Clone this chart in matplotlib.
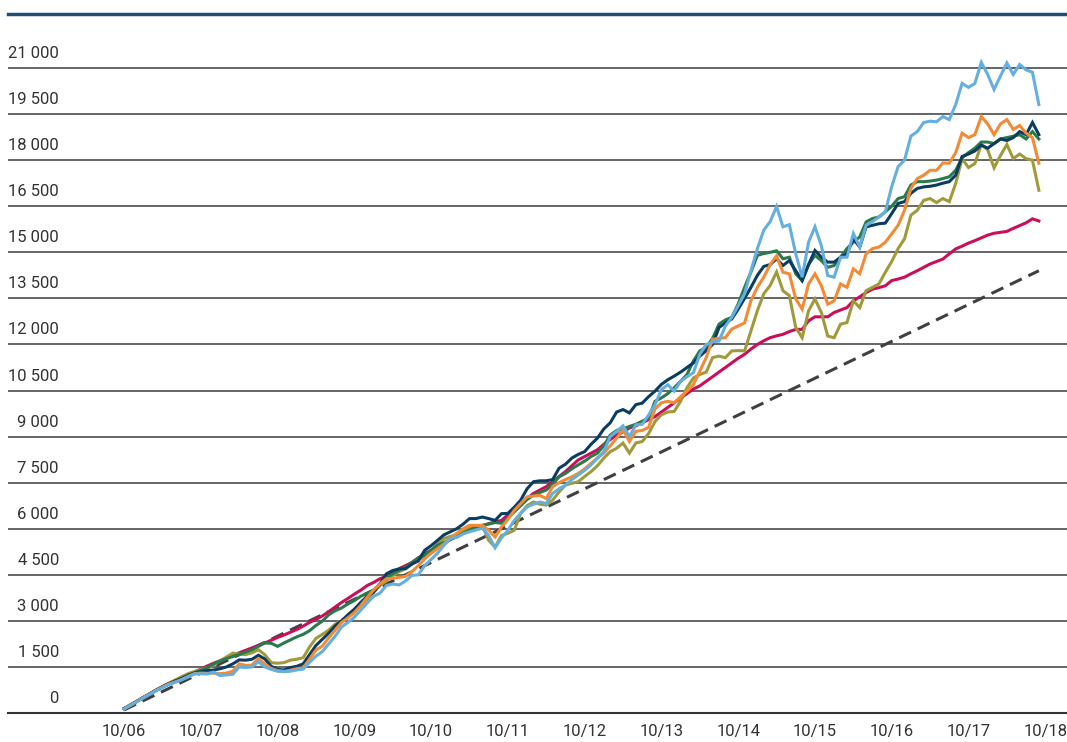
# Monthly savings: cumulative value of 100/month in six funds vs. deposits
import numpy as np
import matplotlib
matplotlib.use("Agg")
import matplotlib.pyplot as plt
from matplotlib.lines import Line2D
from matplotlib.transforms import ScaledTranslation

plt.rcParams['font.family'] = ['Roboto', 'DejaVu Sans']

# x tick labels (one per year, month index 0 = 10/06)
tick_labels = ["10/06", "10/07", "10/08", "10/09", "10/10", "10/11", "10/12",
               "10/13", "10/14", "10/15", "10/16", "10/17", "10/18"]
tick_months = [0, 12, 24, 36, 48, 60, 72, 84, 96, 108, 120, 132, 144]

# y gridlines and labels
y_ticks = [0, 1500, 3000, 4500, 6000, 7500, 9000, 10500, 12000, 13500,
           15000, 16500, 18000, 19500, 21000]

# cumulative deposits (dashed line): start and end
deposit_months = [0, 143]
deposit_values = [100, 14400]

light_blue = [
    130, 250, 370, 490, 610, 720, 830, 930, 1000, 1080, 1170,
    1270, 1280, 1270, 1330, 1220, 1240, 1260, 1500, 1480, 1500,
    1670, 1500, 1420, 1360, 1350, 1360, 1400, 1430, 1650, 1850,
    2000, 2250, 2500, 2800, 2950, 3120, 3350, 3580, 3800, 3900,
    4150, 4200, 4170, 4300, 4480, 4500, 4800, 5000, 5200, 5460,
    5680, 5720, 5830, 5900, 5960, 6020, 5780, 5380, 5700, 5950,
    6270, 6500, 6710, 6800, 6870, 6820, 7150, 7300, 7420, 7600,
    7750, 7900, 8080, 8300, 8510, 9000, 9170, 9350, 9000, 9380,
    9400, 9700, 10040, 10530, 10690, 10480, 10800, 10950, 11080, 11680,
    12000, 12080, 12110, 12600, 12880, 13260, 13650, 14400, 15120, 15720,
    16000, 16490, 15830, 15900, 14950, 14190, 15330, 15830, 15220, 14240,
    14190, 14840, 14840, 15610, 15170, 15880, 16000, 16150, 16320, 17140,
    17790, 18000, 18785, 18930, 19225, 19270, 19250, 19420, 19320, 19810,
    20500, 20370, 20500, 21185, 20790, 20300, 20740, 21165, 20790, 21115,
    20940, 20860, 19810]

orange = [
    135, 255, 375, 495, 615, 730, 840, 940, 1010, 1090, 1190,
    1280, 1300, 1290, 1300, 1280, 1300, 1360, 1600, 1550, 1560,
    1770, 1600, 1450, 1380, 1350, 1390, 1440, 1470, 1750, 2050,
    2180, 2450, 2700, 2945, 3100, 3270, 3500, 3765, 4000, 4200,
    4370, 4380, 4420, 4450, 4600, 4800, 5020, 5200, 5350, 5500,
    5700, 5850, 6000, 6110, 6110, 6110, 5950, 5730, 6055, 6300,
    6600, 6820, 7040, 7060, 7090, 6980, 7370, 7500, 7600, 7690,
    7800, 7950, 8130, 8300, 8460, 8700, 8950, 9220, 8840, 9170,
    9200, 9300, 9900, 10100, 10150, 10100, 10300, 10480, 10690, 11130,
    11570, 12170, 12200, 12220, 12500, 12600, 12700, 13430, 13860, 14190,
    14600, 14880, 14350, 14300, 13480, 13150, 13970, 14300, 13910, 13310,
    13420, 13970, 13860, 14460, 14300, 14950, 15120, 15170, 15330, 15600,
    15880, 16370, 17080, 17400, 17510, 17670, 17670, 17910, 17900, 18245,
    18880, 18735, 18830, 19420, 19180, 18830, 19180, 19320, 19000, 19130,
    18880, 18735, 17900]

navy = [
    140, 260, 380, 500, 620, 740, 850, 950, 1040, 1120, 1220,
    1300, 1350, 1380, 1400, 1440, 1500, 1600, 1730, 1720, 1750,
    1880, 1760, 1520, 1420, 1400, 1480, 1520, 1600, 1900, 2200,
    2400, 2600, 2835, 3000, 3200, 3380, 3600, 3800, 3930, 4200,
    4530, 4640, 4690, 4700, 4850, 4950, 5300, 5450, 5620, 5800,
    5900, 6000, 6150, 6330, 6330, 6380, 6330, 6270, 6490, 6500,
    6700, 6930, 7300, 7530, 7560, 7560, 7600, 7970, 8100, 8300,
    8420, 8510, 8750, 8950, 9250, 9450, 9800, 9880, 9770, 10040,
    10090, 10300, 10480, 10700, 10850, 10970, 11100, 11250, 11400, 11620,
    11800, 12000, 12550, 12700, 12830, 13150, 13500, 13860, 14250, 14540,
    14600, 14790, 14570, 14730, 14400, 14080, 14600, 15060, 14840, 14680,
    14680, 14840, 14950, 15440, 15170, 15830, 15880, 15930, 15950, 16260,
    16590, 16650, 16920, 17080, 17130, 17150, 17190, 17250, 17300, 17510,
    18120, 18200, 18300, 18490, 18390, 18540, 18690, 18640, 18735, 18930,
    18830, 19225, 18830]

green = [
    140, 255, 375, 500, 620, 735, 845, 945, 1040, 1130, 1230,
    1310, 1380, 1480, 1600, 1690, 1770, 1840, 1900, 1980, 2060,
    2170, 2280, 2270, 2170, 2280, 2380, 2480, 2560, 2680, 2850,
    2990, 3200, 3330, 3420, 3550, 3660, 3800, 3900, 4000, 4200,
    4400, 4530, 4650, 4750, 4900, 5050, 5130, 5300, 5460, 5550,
    5650, 5730, 5850, 5950, 6050, 6110, 6150, 6200, 6180, 6350,
    6550, 6750, 6950, 7090, 7180, 7260, 7450, 7690, 7800, 7950,
    8080, 8200, 8350, 8460, 8700, 9050, 9200, 9250, 9330, 9400,
    9500, 9600, 10150, 10260, 10400, 10590, 10800, 11020, 11460, 11790,
    11900, 12200, 12660, 12800, 12880, 13320, 13860, 14360, 14900, 14960,
    15000, 15050, 14790, 14840, 14300, 14080, 14600, 14900, 14730, 14510,
    14570, 14840, 15120, 15330, 15500, 15990, 16100, 16150, 16320, 16500,
    16750, 16810, 17190, 17300, 17300, 17320, 17350, 17400, 17460, 17670,
    18080, 18245, 18390, 18590, 18590, 18540, 18690, 18735, 18780, 18830,
    18690, 18930, 18690]

olive = [
    145, 265, 385, 505, 625, 745, 860, 970, 1070, 1180, 1280,
    1350, 1420, 1470, 1560, 1700, 1820, 1950, 1920, 1900, 1960,
    2060, 1900, 1640, 1620, 1640, 1720, 1750, 1800, 2150, 2430,
    2560, 2700, 2890, 3000, 3150, 3330, 3500, 3700, 3930, 4150,
    4300, 4480, 4600, 4700, 4850, 5000, 5080, 5300, 5500, 5680,
    5750, 5800, 5950, 6055, 6080, 6110, 5620, 5400, 5780, 5850,
    5950, 6500, 6750, 6870, 6800, 6770, 6930, 7200, 7420, 7480,
    7530, 7700, 7860, 8050, 8300, 8510, 8620, 8790, 8460, 8790,
    8840, 9100, 9490, 9710, 9800, 9820, 10150, 10590, 10910, 11020,
    11100, 11570, 11620, 11570, 11790, 11800, 11790, 12440, 13100, 13650,
    13920, 14360, 13750, 13590, 12550, 12220, 13090, 13480, 13040, 12270,
    12220, 12660, 12710, 13420, 13200, 13750, 13860, 13970, 14350, 14700,
    15120, 15440, 16210, 16370, 16690, 16750, 16620, 16750, 16650, 17240,
    18050, 17760, 17890, 18510, 18340, 17750, 18150, 18510, 18050, 18200,
    18050, 18000, 17020]

magenta = [
    145, 265, 385, 505, 625, 745, 860, 965, 1060, 1160, 1250,
    1330, 1430, 1530, 1620, 1700, 1790, 1880, 1960, 2040, 2120,
    2200, 2280, 2370, 2460, 2540, 2630, 2720, 2830, 2950, 3050,
    3160, 3300, 3450, 3600, 3730, 3870, 4000, 4150, 4250, 4370,
    4450, 4580, 4700, 4800, 4900, 5050, 5190, 5300, 5400, 5510,
    5650, 5780, 5850, 5950, 6050, 6100, 6165, 6220, 6270, 6450,
    6660, 6820, 6980, 7150, 7260, 7370, 7530, 7700, 7860, 8050,
    8240, 8350, 8460, 8570, 8750, 8900, 9060, 9150, 9280, 9350,
    9450, 9550, 9650, 9800, 9950, 10100, 10250, 10400, 10550, 10650,
    10800, 10950, 11100, 11250, 11400, 11550, 11680, 11850, 12000, 12120,
    12220, 12280, 12330, 12420, 12490, 12490, 12770, 12900, 12900, 12900,
    13040, 13120, 13200, 13420, 13550, 13690, 13800, 13850, 13910, 14080,
    14130, 14190, 14300, 14400, 14510, 14620, 14700, 14780, 14950, 15110,
    15200, 15300, 15380, 15470, 15560, 15620, 15650, 15680, 15780, 15870,
    15960, 16090, 16020]

months = np.arange(len(light_blue))

W, H = 1067, 742
fig = plt.figure(figsize=(W / 100, H / 100), dpi=100)
ax = fig.add_axes([8 / W, (H - 713) / H, (W - 8) / W, 663.4 / H])

# dashed deposits line, then the funds
ax.plot(deposit_months, deposit_values, color="#404040", lw=2.2,
        dashes=(4.3, 2.4), zorder=2)
series = [(magenta, "#CC0E5A"), (olive, "#A09A3A"), (green, "#2A7A4B"),
          (navy, "#0B3D63"), (orange, "#F58A34"), (light_blue, "#64AFE0")]
for i, (vals, col) in enumerate(series):
    ax.plot(months, vals, color=col, lw=2.2, solid_joinstyle="miter", zorder=3 + i)

ax.set_xlim(-18.14, 147.4)
ax.set_ylim(0, 21600)

# horizontal gridlines
ax.set_yticks(y_ticks)
ax.set_yticklabels([])
ax.tick_params(axis="y", length=0)
ax.grid(axis="y", color="#595959", lw=1.3)
ax.set_axisbelow(True)

# y labels sit on top of each gridline, inside the plot
offset = ScaledTranslation(0, 10 / 100, fig.dpi_scale_trans)
for v in y_ticks:
    label = f"{v:,}".replace(",", " ")
    ax.text(51 / (W - 8), v, label, transform=ax.get_yaxis_transform() + offset,
            ha="right", va="baseline", fontsize=12, color="#333333")

ax.set_xticks(tick_months)
ax.set_xticklabels(tick_labels, fontsize=12, color="#333333")
ax.tick_params(axis="x", length=0, pad=8)

for side in ["top", "left", "right"]:
    ax.spines[side].set_visible(False)
ax.spines["bottom"].set_color("#333333")
ax.spines["bottom"].set_linewidth(1.5)

# dark blue rule under the (cropped) heading
fig.add_artist(Line2D([8 / W, 1], [1 - 14 / H, 1 - 14 / H], transform=fig.transFigure,
                      color="#1F4E79", lw=2.5))

plt.savefig("out.png", dpi=100)
